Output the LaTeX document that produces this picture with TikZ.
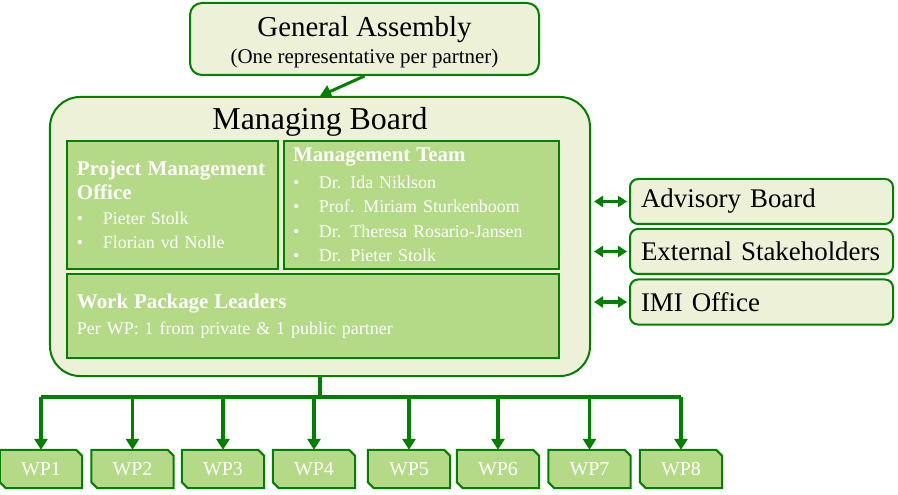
\documentclass[tikz,border=0pt]{standalone}
\usepackage{fontspec}
\setmainfont{Liberation Serif}
\usetikzlibrary{arrows.meta, positioning, backgrounds, calc}
\definecolor{gdark}{RGB}{0,128,0}
\definecolor{glight}{RGB}{236,241,215}
\definecolor{gmid}{RGB}{180,218,135}
\newcommand{\bul}{\makebox[26bp][l]{\textbullet}}
\newcommand{\headf}{\fontsize{21}{24.5}\selectfont\bfseries}

\begin{document}
\begin{tikzpicture}[x=1bp, y=-1bp,
      outerbox/.style={draw=gdark, line width=2bp, fill=glight, rounded corners=12bp},
      sidebox/.style={outerbox, rounded corners=8bp, minimum width=263bp, minimum height=45bp,
        text width=241bp, inner xsep=11bp, align=left, font=\fontsize{27}{30}\selectfont},
      inbox/.style={draw=gdark, line width=2bp, fill=gmid, text=white, align=left,
        inner xsep=10bp, inner ysep=0pt, font=\fontsize{18}{24.5}\selectfont},
      wpbox/.style={text=white, minimum width=82bp, minimum height=38bp, inner sep=0pt,
        font=\fontsize{20}{24}\selectfont},
      wpshape/.style={draw=gdark, line width=2bp, fill=gmid, line join=miter},
      arr/.style={-{Triangle[width=13bp,length=11bp]}, line width=3.5bp, draw=gdark},
      darr/.style={{Triangle[width=11bp,length=9bp]}-{Triangle[width=11bp,length=9bp]},
        line width=3.5bp, draw=gdark}
    ]
      \useasboundingbox (0,0) rectangle (898,495);

      % General assembly and managing board
      \node[outerbox, minimum width=349bp, minimum height=72bp, inner ysep=0pt, align=center] (ga) at (364.5,39)
        {\rule{0pt}{26bp}{\fontsize{29}{30}\selectfont General Assembly}\\[5bp]{\fontsize{21}{24}\selectfont (One representative per partner)}};
      \node[outerbox, rounded corners=30bp, minimum width=540bp, minimum height=279bp] (mb) at (320,236.5) {};
      \node[font=\fontsize{32}{36}\selectfont, inner sep=0pt] (mbtitle) at (320,122) {Managing Board};
      \draw[arr, line width=3bp] (ga.south) -- (mb.north);

      % Inner boxes
      \node[inbox, minimum width=211bp, minimum height=128bp, text width=191bp] (pmo) at (172.5,205)
        {{\headf Project Management\\Office}\\ \bul Pieter Stolk\\ \bul Florian vd Nolle};
      \node[inbox, minimum width=275bp, minimum height=128bp, text width=257bp, inner xsep=9bp] (mt) at (421.5,205)
        {{\headf Management Team}\\[2bp] \bul Dr. Ida Niklson\\ \bul Prof. Miriam Sturkenboom\\
         \bul Dr. Theresa Rosario-Jansen\\ \bul Dr. Pieter Stolk};
      \node[inbox, minimum width=492bp, minimum height=84bp, text width=472bp] (wpl) at (313,316)
        {{\headf Work Package Leaders}\\[1bp] Per WP: 1 from private \& 1 public partner};

      % Side boxes
      \node[sidebox] (ab) at (761.5,201.5) {Advisory Board};
      \node[sidebox] (es) at (761.5,251.5) {External Stakeholders};
      \node[sidebox] (imi) at (761.5,302) {IMI Office};
      \foreach \s in {ab, es, imi}
        \draw[darr, shorten <=3bp, shorten >=2bp] (mb.east |- \s.west) -- (\s.west);

      % Work packages
      \coordinate (bus) at (320,397);
      \foreach \i/\x in {1/41, 2/132.5, 3/223, 4/314, 5/409, 6/498, 7/589.5, 8/681}
        \node[wpbox] (wp\i) at (\x,469) {WP\i};
      \begin{scope}[on background layer]
        \foreach \i in {1,...,8}
          \path[wpshape] (wp\i.north west) -- ([xshift=-6bp]wp\i.north east) -- ([yshift=-6bp]wp\i.north east)
            -- (wp\i.south east) -- ([xshift=6bp]wp\i.south west) -- ([yshift=6bp]wp\i.south west) -- cycle;
      \end{scope}
      \draw[gdark, line width=3.5bp] (mb.south) -- (bus);
      \draw[gdark, line width=3.5bp] (wp1.north |- bus) -- (wp8.north |- bus);
      \foreach \i in {1,...,8}
        \draw[arr] (wp\i.north |- bus) -- (wp\i.north);
    \end{tikzpicture}
\end{document}
